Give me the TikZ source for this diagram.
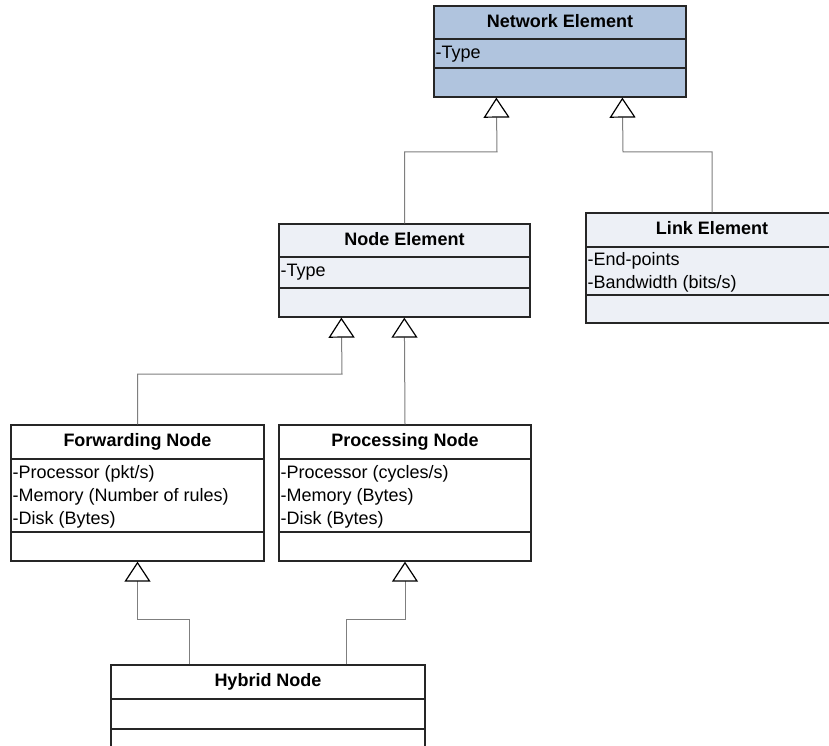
\documentclass[tikz,border=0pt]{standalone}
\usepackage{fontspec}
\setmainfont{Liberation Sans}
\usetikzlibrary{arrows.meta}
\definecolor{headblue}{HTML}{B0C4DE}
\definecolor{paleblue}{HTML}{EDF0F6}
\definecolor{linkgray}{HTML}{7F7F7F}
\begin{document}
\begin{tikzpicture}[x=1pt,y=-1pt,
  classbox/.style={draw=black!85,line width=1.3pt,inner sep=0pt,rectangle},
  divider/.style={draw=black!85,line width=1.3pt},
  titletext/.style={font=\fontsize{18}{23}\selectfont\bfseries,inner sep=0pt,anchor=base},
  attrtext/.style={font=\fontsize{18}{23}\selectfont,inner sep=0pt,anchor=base west},
  inherit/.style={draw=linkgray,line width=1pt,
    -{Triangle[length=20pt,width=26pt,color=black,fill=white,line width=1.2pt]}}]
\useasboundingbox[fill=white] (0,0) rectangle (829,746);

% Network Element
\node[classbox,fill=headblue,minimum width=252pt,minimum height=91pt] (ne) at (560,51.5) {};
\draw[divider] (434,39) -- (686,39) (434,68) -- (686,68);
\path (ne.north) ++(0,22) node[titletext] (neT) {Network Element};
\path (ne.north west) ++(2,53) node[attrtext] (neA1) {-Type};
\path (ne.south west) ++(63,0) coordinate (neTipL);
\path (ne.south west) ++(189,0) coordinate (neTipR);

% Node Element
\node[classbox,fill=paleblue,minimum width=251pt,minimum height=93pt] (nd) at (404.5,270.5) {};
\draw[divider] (279,257) -- (530,257) (279,288) -- (530,288);
\path (nd.north) ++(0,22) node[titletext] (ndT) {Node Element};
\path (nd.north west) ++(2,53) node[attrtext] (ndA1) {-Type};
\path (nd.south west) ++(63,0) coordinate (ndTipL);
\path (nd.south west) ++(126,0) coordinate (ndTipR);

% Link Element
\node[classbox,fill=paleblue,minimum width=252pt,minimum height=110pt] (lk) at (712,268) {};
\draw[divider] (586,247) -- (838,247) (586,295) -- (838,295);
\path (lk.north) ++(0,22) node[titletext] (lkT) {Link Element};
\path (lk.north west) ++(2,53) node[attrtext] (lkA1) {-End-points};
\path (lk.north west) ++(2,76) node[attrtext] (lkA2) {-Bandwidth (bits/s)};

% Forwarding Node
\node[classbox,fill=white,minimum width=253pt,minimum height=136pt] (fw) at (137.5,493) {};
\draw[divider] (11,459) -- (264,459) (11,532) -- (264,532);
\path (fw.north) ++(0,22) node[titletext] (fwT) {Forwarding Node};
\path (fw.north west) ++(2,54) node[attrtext] (fwA1) {-Processor (pkt/s)};
\path (fw.north west) ++(2,77) node[attrtext] (fwA2) {-Memory (Number of rules)};
\path (fw.north west) ++(2,100) node[attrtext] (fwA3) {-Disk (Bytes)};

% Processing Node
\node[classbox,fill=white,minimum width=252pt,minimum height=136pt] (pr) at (405,493) {};
\draw[divider] (279,459) -- (531,459) (279,532) -- (531,532);
\path (pr.north) ++(0,22) node[titletext] (prT) {Processing Node};
\path (pr.north west) ++(2,54) node[attrtext] (prA1) {-Processor (cycles/s)};
\path (pr.north west) ++(2,77) node[attrtext] (prA2) {-Memory (Bytes)};
\path (pr.north west) ++(2,100) node[attrtext] (prA3) {-Disk (Bytes)};

% Hybrid Node
\node[classbox,fill=white,minimum width=314pt,minimum height=120pt] (hy) at (268,725) {};
\draw[divider] (111,699) -- (425,699) (111,729) -- (425,729);
\path (hy.north) ++(0,22) node[titletext] (hyT) {Hybrid Node};
\path (hy.north west) ++(79,0) coordinate (hyL);
\path (hy.north west) ++(236,0) coordinate (hyR);

% Generalisation connectors
\draw[inherit] (nd.north) |- (497,152) -- (neTipL);
\draw[inherit] (lk.north) |- (623,152) -- (neTipR);
\draw[inherit] (fw.north) |- (342,374) -- (ndTipL);
\draw[inherit] (pr.north) -- (ndTipR);
\draw[inherit] (hyL) |- (137.5,619) -- (fw.south);
\draw[inherit] (hyR) |- (405,619) -- (pr.south);
\end{tikzpicture}
\end{document}
